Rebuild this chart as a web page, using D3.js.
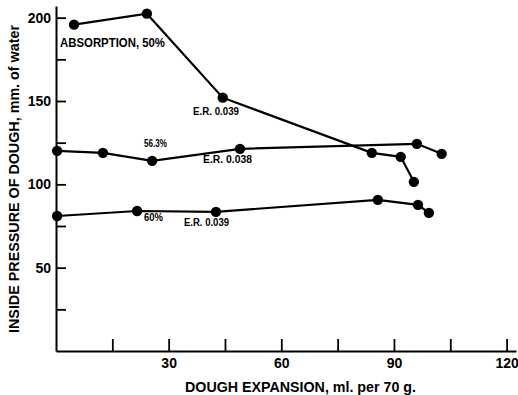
<!DOCTYPE html>
<html>
<head>
<meta charset="utf-8">
<script src="https://cdn.jsdelivr.net/npm/d3@7"></script>
<style>
  body { margin: 0; background: #fff; }
  svg { display: block; font-family: "Liberation Sans", Arial, sans-serif; font-weight: bold; }
</style>
</head>
<body>
<div id="chart"></div>
<script>
// dough expansion (ml per 70 g) vs inside pressure (mm of water)
const abs50X = [4.8, 24.2, 44.4, 84.1, 91.8, 95.3];
const abs50Y = [195.8, 202.4, 152, 118.9, 116.5, 101.5];
const abs56X = [0.3, 12.5, 25.6, 49, 96.1, 102.7];
const abs56Y = [120.1, 118.9, 114.1, 121.3, 124.3, 118.3];
const abs60X = [0.3, 21.6, 42.6, 85.7, 96.4, 99.3];
const abs60Y = [81, 84, 83.5, 90.7, 87.7, 82.9];

const xTicks = [15, 30, 45, 60, 75, 90, 105, 120];
const yTicks = [25, 50, 75, 100, 125, 150, 175, 200];

const w = 518, h = 395;

const svg = d3.select('#chart').append('svg').attr('width', w).attr('height', h);

const x = d3.scaleLinear().domain([0, 122.5]).range([56, 516]);
const y = d3.scaleLinear().domain([0, 207]).range([351, 6]);

let xAxis = d3.axisBottom(x)
  .tickValues(xTicks)
  .tickSize(-12)
  .tickSizeOuter(0)
  .tickPadding(7)
  .tickFormat(d => d % 30 === 0 ? d : '');

let yAxis = d3.axisLeft(y)
  .tickValues(yTicks)
  .tickSize(-10)
  .tickSizeOuter(0)
  .tickPadding(5)
  .tickFormat(d => d % 50 === 0 ? d : '');

const gx = svg.append('g').attr('transform', 'translate(0,351)').call(xAxis);
const gy = svg.append('g').attr('transform', 'translate(56,0)').call(yAxis);

[gx, gy].forEach(g => {
  g.select('.domain').attr('stroke', '#000').attr('stroke-width', 2);
  g.selectAll('.tick line').attr('stroke', '#000').attr('stroke-width', 1.8);
  g.selectAll('text')
    .attr('fill', '#000')
    .attr('font-family', '"Liberation Sans", Arial, sans-serif')
    .attr('font-weight', 'bold')
    .attr('font-size', 14);
});

const series = [
  { xs: abs50X, ys: abs50Y },
  { xs: abs56X, ys: abs56Y },
  { xs: abs60X, ys: abs60Y }
];

const line = d3.line().x(d => x(d[0])).y(d => y(d[1]));

series.forEach(s => {
  const pts = s.xs.map((v, i) => [v, s.ys[i]]);
  svg.append('path')
    .datum(pts)
    .attr('fill', 'none')
    .attr('stroke', '#000')
    .attr('stroke-width', 2.2)
    .attr('d', line);
  svg.selectAll(null)
    .data(pts)
    .enter().append('circle')
    .attr('cx', d => x(d[0]))
    .attr('cy', d => y(d[1]))
    .attr('r', 5.2)
    .attr('fill', '#000');
});

// curve labels
const notes = [
  { t: 'ABSORPTION, 50%', px: 60, py: 47, fs: 12, len: 105 },
  { t: 'E.R. 0.039', px: 193, py: 115, fs: 10, len: 46 },
  { t: '56.3%', px: 144, py: 147, fs: 10.5, len: 23 },
  { t: 'E.R.  0.038', px: 203, py: 163, fs: 10, len: 49 },
  { t: '60%', px: 144, py: 221, fs: 10.5, len: 19 },
  { t: 'E.R. 0.039', px: 184, py: 226, fs: 10, len: 45 }
];

notes.forEach(n => {
  svg.append('text')
    .attr('x', n.px)
    .attr('y', n.py)
    .attr('font-size', n.fs)
    .attr('textLength', n.len)
    .attr('lengthAdjust', 'spacingAndGlyphs')
    .text(n.t);
});

// axis titles
svg.append('text')
  .attr('x', 185)
  .attr('y', 392)
  .attr('font-size', 14.5)
  .attr('textLength', 231)
  .attr('lengthAdjust', 'spacingAndGlyphs')
  .text('DOUGH EXPANSION, ml. per 70 g.');

svg.append('text')
  .attr('transform', 'translate(19,333) rotate(-90)')
  .attr('font-size', 14.5)
  .attr('textLength', 308)
  .attr('lengthAdjust', 'spacingAndGlyphs')
  .text('INSIDE PRESSURE OF DOUGH, mm. of water');
</script>
</body>
</html>
